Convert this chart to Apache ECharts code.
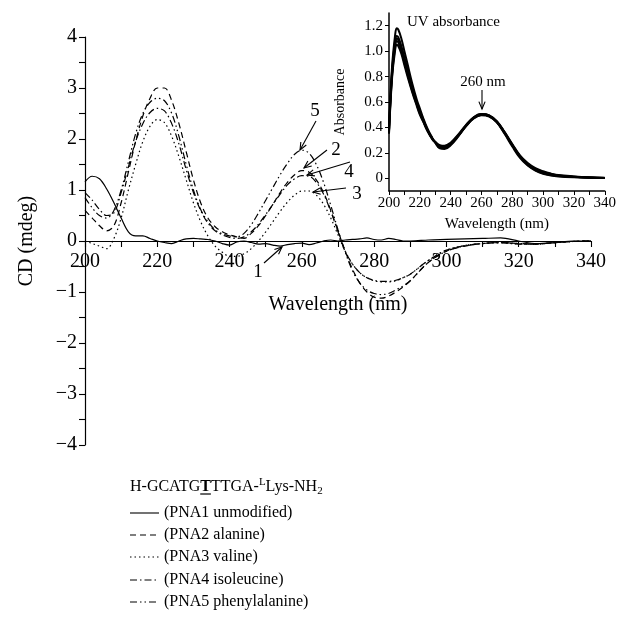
<!DOCTYPE html>
<html><head><meta charset="utf-8">
<script src="https://cdn.jsdelivr.net/npm/echarts@6/dist/echarts.min.js"></script>
<style>html,body{margin:0;padding:0;background:#fff}#c{width:619px;height:637px}</style>
</head><body><div id="c"></div>
<script>
// ---------- DATA ----------
const cdWavelength = [200,202,204,206,208,210,212,214,216,218,220,222,224,226,228,230,232,234,236,238,240,242,244,246,248,250,252,254,256,258,260,262,264,266,268,270,272,274,276,278,280,282,284,286,288,290,295,300,305,310,315,320,325,330,335,340];
const pna1 = [1.16,1.27,1.22,1.02,0.75,0.45,0.18,0.10,0.10,0.05,0.00,-0.03,-0.05,0.00,0.04,0.05,0.04,0.03,0.00,-0.05,-0.08,-0.02,0.00,-0.03,-0.06,-0.05,-0.08,-0.10,-0.07,-0.05,-0.04,-0.07,-0.04,0.00,0.02,0.00,0.02,0.03,0.04,0.06,0.03,0.02,0.05,0.03,0.00,0.00,0.02,0.03,0.04,0.05,0.06,0.00,-0.05,-0.03,0.00,0.00];
const pna2 = [0.60,0.45,0.30,0.20,0.30,0.75,1.35,1.95,2.45,2.80,3.00,3.00,2.75,2.30,1.75,1.20,0.75,0.45,0.28,0.18,0.12,0.08,0.05,0.15,0.30,0.50,0.72,0.95,1.15,1.30,1.38,1.35,1.20,0.95,0.60,0.20,-0.20,-0.55,-0.82,-1.00,-1.10,-1.12,-1.08,-1.00,-0.90,-0.78,-0.42,-0.20,-0.10,-0.05,-0.03,-0.05,-0.06,-0.03,-0.01,0.00];
const pna3 = [0.00,-0.05,-0.10,-0.15,0.05,0.45,1.00,1.50,1.95,2.25,2.38,2.32,2.05,1.65,1.20,0.75,0.38,0.10,-0.10,-0.22,-0.30,-0.30,-0.25,-0.15,0.00,0.18,0.38,0.58,0.76,0.90,0.98,0.98,0.90,0.72,0.45,0.12,-0.20,-0.45,-0.62,-0.72,-0.78,-0.80,-0.80,-0.78,-0.72,-0.65,-0.38,-0.18,-0.09,-0.05,-0.03,-0.06,-0.06,-0.03,-0.01,0.00];
const pna4 = [0.95,0.80,0.62,0.50,0.55,0.95,1.45,1.95,2.30,2.52,2.60,2.55,2.30,1.90,1.40,0.95,0.60,0.35,0.20,0.12,0.07,0.05,0.08,0.18,0.33,0.52,0.72,0.92,1.10,1.22,1.28,1.27,1.15,0.92,0.58,0.18,-0.20,-0.45,-0.62,-0.72,-0.77,-0.79,-0.79,-0.77,-0.72,-0.65,-0.38,-0.18,-0.09,-0.05,-0.03,-0.06,-0.06,-0.03,-0.01,0.00];
const pna5 = [0.85,0.65,0.50,0.45,0.60,1.00,1.55,2.10,2.50,2.72,2.80,2.75,2.50,2.05,1.50,1.00,0.62,0.38,0.22,0.14,0.10,0.08,0.15,0.32,0.55,0.80,1.05,1.30,1.52,1.70,1.78,1.72,1.50,1.15,0.70,0.22,-0.22,-0.58,-0.82,-0.96,-1.03,-1.05,-1.03,-0.96,-0.88,-0.78,-0.42,-0.20,-0.10,-0.05,-0.03,-0.05,-0.06,-0.03,-0.01,0.00];

const uvWavelength = [200,202,204,205,206,208,210,212,215,218,220,222,225,228,230,233,236,240,245,250,255,260,265,270,275,280,285,290,295,300,305,310,320,330,340];
const uvA = [0.40,0.88,1.13,1.18,1.17,1.10,1.00,0.90,0.75,0.62,0.55,0.48,0.39,0.32,0.28,0.235,0.23,0.26,0.33,0.41,0.475,0.50,0.49,0.44,0.35,0.25,0.16,0.10,0.06,0.035,0.022,0.015,0.008,0.004,0.002];
const uvB = [0.38,0.85,1.08,1.12,1.11,1.04,0.95,0.86,0.72,0.60,0.53,0.47,0.38,0.31,0.28,0.24,0.24,0.265,0.335,0.415,0.48,0.505,0.495,0.445,0.36,0.26,0.17,0.105,0.065,0.04,0.025,0.018,0.01,0.005,0.002];
const uvC = [0.37,0.83,1.06,1.10,1.09,1.02,0.93,0.84,0.71,0.59,0.52,0.46,0.38,0.315,0.285,0.25,0.245,0.27,0.335,0.41,0.47,0.495,0.485,0.44,0.355,0.26,0.17,0.11,0.07,0.045,0.03,0.02,0.012,0.006,0.003];
const uvD = [0.36,0.81,1.04,1.08,1.07,1.00,0.91,0.82,0.69,0.58,0.51,0.455,0.375,0.315,0.285,0.255,0.25,0.275,0.34,0.415,0.475,0.50,0.49,0.445,0.36,0.265,0.175,0.115,0.075,0.05,0.033,0.022,0.013,0.007,0.003];
const uvE = [0.35,0.79,1.01,1.05,1.04,0.98,0.89,0.80,0.68,0.57,0.50,0.45,0.37,0.31,0.285,0.26,0.255,0.28,0.345,0.42,0.48,0.505,0.495,0.45,0.365,0.27,0.18,0.12,0.08,0.055,0.037,0.025,0.015,0.008,0.004];

const uvTickValues = [0,0.2,0.4,0.6,0.8,1.0,1.2];
const seriesNames = ['(PNA1 unmodified)','(PNA2 alanine)','(PNA3 valine)','(PNA4 isoleucine)','(PNA5 phenylalanine)'];

// ---------- STYLE ----------
const FONT = 'Liberation Serif';
const dashes = ['solid',[6,4],[1.5,3],[7,3,1.5,3],[7,3,1.5,3,1.5,3]];
const cdData = [pna1,pna2,pna3,pna4,pna5];
const uvData = [uvA,uvB,uvC,uvD,uvE];

const chart = echarts.init(document.getElementById('c'), null, {renderer:'canvas'});

const series = [];
cdData.forEach((arr,i)=>{
  series.push({type:'line', xAxisIndex:0, yAxisIndex:0, name:seriesNames[i], showSymbol:false, smooth:0.35,
    data: cdWavelength.map((w,k)=>[w,arr[k]]),
    lineStyle:{color:'#000', width:1.2, type:dashes[i]}, z:3});
});
uvData.forEach((arr,i)=>{
  series.push({type:'line', xAxisIndex:1, yAxisIndex:1, showSymbol:false, smooth:0.4,
    data: uvWavelength.map((w,k)=>[w,arr[k]]),
    lineStyle:{color:'#000', width:2}, z:3});
});

function fmtMinus(v){ return v<0 ? '\u2212'+Math.abs(v) : String(v); }

function arrow(x1,y1,x2,y2){
  const a = Math.atan2(y2-y1,x2-x1), L=8, s=0.4;
  return [
    {type:'line', shape:{x1,y1,x2,y2}, style:{stroke:'#000', lineWidth:1.1}, z:10},
    {type:'polyline', shape:{points:[[x2-L*Math.cos(a-s), y2-L*Math.sin(a-s)],[x2,y2],[x2-L*Math.cos(a+s), y2-L*Math.sin(a+s)]]}, style:{stroke:'#000', lineWidth:1.1, fill:null}, z:10}
  ];
}
function txt(t,x,y,size,extra){
  return {type:'text', z:10, style:Object.assign({text:t, x, y, font:size+'px "'+FONT+'"', fill:'#000', textAlign:'center', textVerticalAlign:'middle'}, extra||{})};
}

const graphics = [];
[[316,121,300,150,'5',315,111],[327,150,304,168,'2',336,150],[350,162,307,175,'4',349,172],[346,188,313,192,'3',357,194],[264,263,282,247,'1',258,272]].forEach(a=>{
  graphics.push(...arrow(a[0],a[1],a[2],a[3]));
  graphics.push(txt(a[4],a[5],a[6],19));
});
graphics.push(txt('UV absorbance',407,22,15,{textAlign:'left'}));
graphics.push(txt('260 nm',483,82,15));
graphics.push(...arrow(482,90,482,109));

const mc = document.createElement('canvas').getContext('2d');
function w(t,f){ mc.font=f; return mc.measureText(t).width; }
const LS = 16, fN = LS+'px "'+FONT+'"', fB = 'bold '+LS+'px "'+FONT+'"', fS = '11px "'+FONT+'"';
let tx = 130; const ty = 487;
const pieces = [['H-GCATG',fN,0],['T',fB,0,'u'],['TTGA-',fN,0],['L',fS,-5],['Lys-NH',fN,0],['2',fS,4]];
pieces.forEach(p=>{
  graphics.push({type:'text', z:10, style:{text:p[0], x:tx, y:ty+p[2], font:p[1], fill:'#000', textAlign:'left', textVerticalAlign:'middle'}});
  const ww = w(p[0],p[1]);
  if(p[3]) graphics.push({type:'line', z:10, shape:{x1:tx,y1:ty+7,x2:tx+ww,y2:ty+7}, style:{stroke:'#000',lineWidth:1.2}});
  tx += ww;
});
const rowY = [513,535,557,580,602];
seriesNames.forEach((n,i)=>{
  graphics.push({type:'line', z:10, shape:{x1:130,y1:rowY[i],x2:159,y2:rowY[i]}, style:{stroke:'#000', lineWidth:1.1, lineDash: dashes[i]==='solid'?null:dashes[i]}});
  graphics.push(txt(n,164,rowY[i],LS,{textAlign:'left'}));
});

const axisText = {color:'#000', fontFamily:FONT};
chart.setOption({
  animation:false,
  backgroundColor:'#fff',
  grid:[
    {left:85, right:28, top:37, bottom:192, containLabel:false},
    {left:389, right:12, top:13, bottom:446, containLabel:false}
  ],
  xAxis:[
    {type:'value', gridIndex:0, min:200, max:340, interval:10, position:'bottom', offset:-204,
     name:'Wavelength (nm)', nameLocation:'middle', nameGap:54, nameTextStyle:Object.assign({fontSize:20},axisText),
     axisLine:{onZero:false, lineStyle:{color:'#000', width:1.2}},
     axisTick:{show:true, inside:false, length:6, lineStyle:{color:'#000', width:1.1}},
     axisLabel:Object.assign({fontSize:20, margin:11, formatter:v=> v%20===0? String(v):''},axisText),
     splitLine:{show:false}},
    {type:'value', gridIndex:1, min:200, max:340, interval:10,
     name:'Wavelength (nm)', nameLocation:'middle', nameGap:26, nameTextStyle:Object.assign({fontSize:15},axisText),
     axisLine:{onZero:false, lineStyle:{color:'#000', width:1.5}},
     axisTick:{show:true, inside:false, length:4, lineStyle:{color:'#000', width:1}},
     axisLabel:Object.assign({fontSize:15, margin:5, formatter:v=> v%20===0? String(v):''},axisText),
     splitLine:{show:false}}
  ],
  yAxis:[
    {type:'value', gridIndex:0, min:-4, max:4, interval:0.5,
     name:'CD (mdeg)', nameLocation:'middle', nameGap:48, nameRotate:90, nameTextStyle:Object.assign({fontSize:20},axisText),
     axisLine:{onZero:false, lineStyle:{color:'#000', width:1.2}},
     axisTick:{show:true, inside:false, length:6, lineStyle:{color:'#000', width:1.1}},
     axisLabel:Object.assign({fontSize:20, margin:8, formatter:v=> Number.isInteger(v)? fmtMinus(v):''},axisText),
     splitLine:{show:false}},
    {type:'value', gridIndex:1, min:-0.1, max:1.3,
     name:'Absorbance', nameLocation:'middle', nameGap:42, nameRotate:90, nameTextStyle:Object.assign({fontSize:14},axisText),
     axisLine:{onZero:false, lineStyle:{color:'#000', width:1.5}},
     axisTick:{show:true, inside:false, length:4, customValues:uvTickValues, lineStyle:{color:'#000', width:1}},
     axisLabel:Object.assign({fontSize:15, margin:6, customValues:uvTickValues, formatter:v=> v===0?'0':v.toFixed(1)},axisText),
     splitLine:{show:false}}
  ],
  series: series,
  graphic: graphics
});
</script></body></html>
